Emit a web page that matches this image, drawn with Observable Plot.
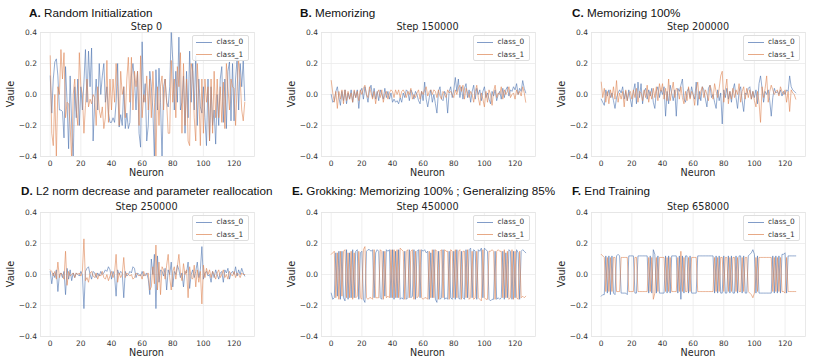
<!DOCTYPE html>
<html><head><meta charset="utf-8">
<script src="https://cdn.jsdelivr.net/npm/d3@7"></script>
<script src="https://cdn.jsdelivr.net/npm/@observablehq/plot@0.6"></script>
<style>
body{margin:0;background:#fff;}
#chart{position:relative;width:814px;height:362px;overflow:hidden;font-family:"DejaVu Sans",sans-serif;color:#262626;}
.abs{position:absolute;white-space:nowrap;line-height:1;}
.title{font-family:"Liberation Sans",Arial,sans-serif;font-size:11.7px;color:#111;transform:translateY(-50%);}
.title b{font-weight:bold;}
.step{font-size:9.7px;transform:translate(-50%,-50%);}
.xlabel{font-size:9.6px;transform:translate(-50%,-50%);}
.ylabel{font-size:9.6px;transform:translate(-50%,-50%) rotate(-90deg);}
.legend{box-sizing:border-box;border:1px solid #dedede;background:rgba(255,255,255,0.85);border-radius:2px;}
.legend .ln{position:absolute;height:0;border-top:1px solid;}
.legend .tx{position:absolute;font-size:7.4px;transform:translateY(-50%);color:#333;}
svg{position:absolute;}
</style>
</head><body>
<div id="chart"></div>
<script>
const xTicks = [0, 20, 40, 60, 80, 100, 120];
const yTicks = [-0.4, -0.2, 0, 0.2, 0.4];
const seriesNames = ["class_0", "class_1"];
const titles = ["Random Initialization", "Memorizing", "Memorizing 100%", "L2 norm decrease and parameter reallocation", "Grokking: Memorizing 100% ; Generalizing 85%", "End Training"];
const letters = ["A.", "B.", "C.", "D.", "E.", "F."];
const steps = ["Step 0", "Step 150000", "Step 200000", "Step 250000", "Step 450000", "Step 658000"];

const A0 = [0.12,-0.12,0.10,0.21,0.23,0.12,-0.10,-0.10,-0.11,-0.28,0.18,-0.05,-0.35,0.12,-0.20,-0.42,
0.05,-0.15,0.10,-0.20,0.05,-0.10,0.08,0.29,-0.05,0.28,0.05,0.30,-0.30,-0.05,0.10,-0.10,
0.20,0.00,0.12,0.20,-0.05,0.05,-0.12,-0.18,-0.18,-0.15,-0.18,-0.05,0.20,-0.21,-0.13,-0.20,
0.05,-0.22,-0.12,-0.22,-0.18,0.12,0.20,0.10,-0.10,0.15,-0.25,-0.34,0.34,-0.05,0.07,-0.30,
-0.20,0.15,0.05,-0.10,-0.42,0.16,-0.10,0.17,-0.05,-0.42,0.05,0.10,-0.05,-0.08,0.05,0.40,
0.22,-0.10,0.15,-0.05,0.37,-0.10,-0.05,0.12,-0.25,0.15,-0.15,0.28,-0.05,0.20,-0.10,0.25,
-0.20,0.10,-0.08,-0.12,0.05,-0.15,-0.33,0.10,-0.30,0.05,-0.20,-0.10,-0.32,0.00,-0.20,0.10,
0.18,-0.18,0.10,-0.22,0.15,0.21,-0.17,0.20,-0.17,0.10,0.24,-0.10,0.20,0.05,0.22,-0.04];
const A1 = [0.25,-0.25,-0.33,0.00,-0.40,0.05,0.00,0.29,0.10,0.27,-0.15,-0.05,-0.06,-0.20,-0.42,0.00,
0.10,-0.10,-0.20,0.27,0.05,0.00,-0.25,-0.07,0.10,-0.08,-0.03,-0.06,0.00,-0.02,-0.20,0.05,
-0.10,-0.15,-0.08,-0.22,-0.15,0.22,-0.18,0.10,-0.10,0.10,-0.05,0.20,0.05,-0.20,0.15,0.00,
0.05,-0.15,0.10,0.24,-0.05,0.24,-0.10,0.15,0.05,0.15,-0.20,0.25,-0.15,0.00,-0.05,0.12,
-0.10,0.10,-0.15,0.15,-0.05,-0.42,0.05,-0.20,0.05,0.12,-0.10,0.10,-0.05,-0.25,-0.25,0.22,
-0.05,0.10,-0.15,0.18,0.05,0.27,-0.25,0.20,-0.20,0.10,-0.30,-0.33,0.20,0.15,-0.15,-0.30,
0.20,0.00,-0.33,0.10,-0.25,0.10,-0.05,0.05,-0.30,0.10,-0.25,0.15,-0.15,0.10,-0.15,0.05,
-0.18,0.08,-0.22,0.20,0.05,-0.10,0.10,0.05,0.04,-0.20,0.05,0.22,0.10,-0.10,-0.17,-0.05];

const B0 = [0.00,-0.05,-0.04,0.02,0.05,-0.02,-0.07,0.02,-0.04,0.03,-0.06,0.01,-0.03,0.03,-0.05,0.02,
-0.02,0.03,-0.09,0.02,0.04,-0.03,0.05,0.00,-0.05,0.03,0.06,-0.02,0.04,-0.03,0.02,-0.04,
0.03,0.00,-0.03,0.04,-0.02,0.02,-0.03,0.01,-0.05,-0.03,-0.05,-0.04,-0.06,-0.02,-0.05,0.01,
-0.02,0.03,0.02,-0.04,0.03,0.01,-0.03,0.02,0.00,-0.04,-0.06,0.02,-0.04,0.08,-0.03,-0.08,
-0.02,0.03,-0.05,0.00,-0.06,-0.12,0.02,0.05,-0.03,-0.04,0.02,0.00,-0.12,0.02,0.05,-0.02,
0.03,0.11,0.02,0.10,-0.02,0.05,-0.03,0.04,0.07,-0.02,0.03,-0.05,0.02,0.06,-0.03,0.04,
0.00,0.03,-0.04,0.02,0.05,-0.02,0.01,-0.03,-0.06,0.02,-0.01,0.03,-0.04,0.00,0.02,-0.03,
0.04,-0.02,0.03,0.05,-0.01,0.03,0.02,0.05,0.03,0.07,0.00,0.04,0.02,0.09,0.04,0.01];
const B1 = [0.09,0.01,-0.05,0.02,-0.09,0.02,-0.03,0.03,-0.06,0.03,-0.04,0.02,-0.03,0.01,-0.05,0.03,
-0.02,0.02,-0.04,0.03,0.00,0.04,0.06,0.00,-0.02,0.05,0.01,-0.03,0.02,-0.06,0.01,0.03,
-0.02,0.03,-0.05,0.00,0.02,-0.03,0.01,0.03,0.02,-0.02,0.03,0.00,0.03,-0.02,0.02,0.03,
0.01,-0.02,0.02,0.00,0.04,-0.03,0.00,-0.02,0.01,0.03,-0.03,0.02,0.00,0.03,0.05,-0.01,
0.02,0.03,0.00,0.03,0.02,-0.02,0.03,-0.01,-0.03,0.02,0.00,-0.02,0.03,0.01,0.02,0.00,
-0.02,0.03,0.00,0.04,0.06,0.02,0.06,-0.03,0.04,0.01,-0.02,0.02,0.00,-0.05,0.02,0.06,
-0.02,-0.07,0.01,-0.03,-0.08,0.02,-0.05,0.03,0.00,-0.07,0.02,0.06,-0.02,0.01,0.00,0.05,
-0.03,0.03,0.00,0.02,0.05,-0.02,0.00,0.01,-0.03,0.03,0.00,0.02,-0.01,0.05,0.01,-0.05];

const C0 = [-0.03,-0.05,-0.07,0.03,-0.01,0.03,-0.02,0.01,-0.04,-0.09,-0.02,0.01,0.03,0.01,0.05,-0.03,
0.02,-0.04,0.03,-0.03,-0.08,0.02,0.07,-0.06,0.08,-0.02,0.07,-0.06,0.02,0.04,-0.03,0.03,
-0.01,0.04,-0.05,-0.09,0.02,0.05,-0.02,0.03,0.00,0.05,-0.14,0.02,-0.06,0.06,0.01,-0.04,
0.03,-0.14,0.04,0.02,0.06,0.10,-0.03,-0.05,0.02,0.04,-0.02,0.05,0.00,-0.03,0.08,-0.07,
0.02,-0.04,0.05,0.03,-0.03,-0.08,0.04,0.06,-0.02,0.00,-0.05,-0.09,0.03,-0.04,0.01,-0.19,
0.03,-0.02,0.04,-0.03,0.02,-0.05,0.03,0.07,-0.02,-0.09,0.02,0.05,-0.04,-0.11,0.01,0.00,
0.04,0.05,-0.03,0.02,-0.02,0.03,-0.06,0.07,0.12,0.04,-0.05,0.02,0.00,0.03,-0.04,-0.14,
-0.02,0.04,0.01,0.02,0.00,0.03,-0.01,0.02,0.00,0.03,0.02,0.12,0.05,0.03,0.02,0.01];
const C1 = [0.08,-0.02,0.04,-0.05,0.02,-0.06,0.03,-0.02,0.05,-0.03,0.09,-0.05,0.01,-0.03,0.02,-0.08,
0.03,-0.04,0.01,0.02,-0.03,0.03,-0.02,0.04,-0.05,0.02,0.01,-0.04,0.03,-0.02,0.06,-0.05,
0.02,-0.03,0.04,-0.02,0.05,-0.04,0.07,0.02,0.07,-0.03,0.04,-0.04,0.10,-0.04,0.02,0.08,
-0.02,0.04,0.03,-0.03,0.05,-0.02,-0.06,0.02,-0.04,0.05,-0.03,0.02,0.00,-0.07,0.03,0.08,
-0.03,0.02,0.05,-0.02,0.03,0.00,-0.04,0.06,0.03,-0.03,0.07,0.02,-0.02,0.04,0.12,0.15,
-0.05,0.03,0.10,-0.06,0.02,-0.03,0.04,-0.02,0.03,0.00,0.07,-0.05,0.02,0.05,-0.03,0.04,
-0.02,0.03,-0.03,0.02,-0.04,-0.08,0.02,-0.05,-0.18,0.05,-0.02,0.04,0.12,-0.05,0.02,0.06,
0.03,0.00,0.02,0.03,-0.01,0.05,0.02,0.00,0.03,-0.05,0.02,-0.11,0.03,0.01,0.00,-0.03];

const D0 = [0.02,-0.06,0.01,-0.02,0.03,-0.11,0.00,0.01,-0.02,0.02,-0.13,0.04,-0.03,0.03,-0.04,0.01,
-0.02,0.01,0.00,-0.01,0.02,0.00,-0.22,0.02,0.04,0.05,0.00,-0.03,0.02,0.01,-0.02,0.01,
-0.01,0.02,0.00,0.01,0.03,0.02,0.05,0.03,-0.03,0.02,-0.01,-0.14,0.03,0.00,0.02,0.01,
-0.15,0.02,-0.01,0.00,0.02,0.01,0.05,0.04,-0.02,0.01,0.00,-0.01,0.02,-0.01,0.00,0.01,
-0.03,-0.13,0.10,0.00,0.13,-0.22,0.12,-0.05,0.03,0.02,-0.01,0.04,-0.10,0.03,0.00,0.08,
-0.08,0.02,0.00,0.06,0.03,-0.02,0.01,-0.08,0.02,0.01,0.08,-0.09,0.00,0.03,-0.02,0.02,
0.08,-0.02,0.03,0.18,-0.03,0.01,0.02,-0.01,0.00,-0.05,0.02,-0.02,0.03,0.00,-0.03,0.01,
0.02,-0.05,0.03,0.01,0.04,-0.03,0.01,0.02,0.00,0.05,-0.01,0.03,0.00,0.04,0.01,-0.01];
const D1 = [0.03,0.02,-0.01,0.02,-0.03,0.08,-0.02,0.01,0.00,-0.03,0.15,-0.07,0.02,-0.01,0.00,0.01,
-0.02,0.01,0.00,0.01,-0.01,0.02,0.23,-0.04,-0.02,-0.05,0.01,0.02,-0.01,-0.02,0.01,-0.03,
0.00,-0.01,0.02,-0.02,-0.03,0.00,-0.04,-0.01,0.02,-0.02,0.01,0.13,-0.05,0.01,-0.02,0.00,
0.11,-0.02,0.01,0.00,-0.01,0.00,-0.03,-0.02,0.01,0.00,-0.01,0.00,-0.03,0.02,-0.01,0.00,
0.01,-0.10,-0.08,0.05,-0.06,0.19,-0.10,0.08,-0.13,0.05,0.03,-0.03,0.06,0.13,-0.02,-0.10,
0.02,0.05,-0.03,0.05,0.13,0.01,-0.04,0.07,0.00,0.03,-0.15,0.05,-0.02,-0.03,0.06,-0.08,
0.03,-0.05,0.02,-0.19,0.06,-0.02,0.04,0.00,0.03,-0.02,0.02,0.00,-0.03,0.01,0.03,-0.02,
0.00,0.03,-0.02,0.00,-0.03,0.02,0.00,-0.01,0.02,-0.02,0.01,0.00,-0.02,0.01,0.00,0.00];

const E0 = [-0.12,-0.16,-0.15,0.14,-0.14,0.15,-0.16,0.15,-0.15,-0.17,0.16,-0.16,0.14,-0.15,0.16,-0.15,
0.15,0.16,-0.16,0.14,0.15,-0.16,-0.18,0.15,0.16,0.16,0.15,0.16,-0.15,0.14,0.16,0.15,
-0.15,-0.16,0.15,-0.14,0.16,0.15,0.16,-0.15,0.16,-0.16,0.15,-0.15,0.16,-0.16,-0.15,-0.16,
0.15,-0.16,-0.15,0.16,-0.15,-0.14,0.16,-0.16,0.15,0.16,-0.15,0.16,0.15,0.16,0.14,0.15,
-0.16,0.14,-0.15,0.16,-0.16,-0.18,0.15,-0.16,-0.15,0.16,-0.16,-0.15,-0.16,0.15,-0.15,-0.16,
0.15,-0.16,0.16,-0.15,-0.16,0.15,-0.15,-0.16,0.16,-0.15,0.16,0.17,-0.15,0.16,0.15,-0.16,
0.16,0.15,0.17,-0.15,0.17,0.16,0.15,-0.16,-0.17,-0.16,-0.16,0.15,-0.16,-0.15,-0.16,-0.15,
0.15,-0.16,0.14,-0.15,0.16,0.15,-0.16,0.15,-0.15,0.16,0.14,-0.16,0.15,0.16,0.15,0.14];
const E1 = [0.13,0.14,0.15,-0.15,0.14,-0.16,0.15,-0.14,0.15,0.16,-0.15,0.14,-0.15,0.15,-0.16,0.14,
-0.15,-0.14,0.15,-0.15,-0.16,0.16,0.18,-0.15,-0.16,-0.15,-0.15,-0.16,0.16,-0.15,-0.15,-0.15,
0.16,0.15,-0.16,0.15,-0.15,-0.14,-0.15,0.16,-0.15,0.16,-0.15,0.16,-0.15,0.17,0.16,0.15,
-0.16,0.15,0.16,-0.15,0.15,0.16,-0.16,0.15,-0.15,-0.14,0.16,-0.15,-0.16,-0.15,-0.15,-0.16,
0.15,-0.15,0.16,-0.15,0.16,0.15,-0.16,0.15,0.16,-0.15,0.16,0.15,0.15,-0.16,0.16,0.15,
-0.15,0.16,-0.15,0.15,0.16,-0.16,0.15,0.15,-0.15,0.16,-0.16,-0.15,0.15,-0.16,-0.15,0.15,
-0.15,-0.16,-0.17,0.16,-0.15,-0.16,-0.16,0.15,0.15,0.16,0.15,-0.16,0.15,0.16,0.15,0.15,
-0.15,0.16,-0.15,0.15,-0.16,-0.15,0.16,-0.16,0.15,-0.15,-0.16,0.15,-0.15,-0.14,-0.15,-0.14];

const F0 = [-0.14,-0.13,-0.13,0.12,-0.12,0.12,-0.13,0.12,-0.12,-0.13,0.12,0.13,0.12,-0.12,-0.12,-0.12,
-0.12,-0.13,0.12,0.12,0.12,0.12,-0.12,-0.12,0.12,0.12,0.12,0.12,0.12,0.12,0.12,-0.12,
0.12,-0.12,0.16,0.13,-0.12,0.12,-0.12,-0.12,-0.12,-0.12,0.12,-0.12,0.12,-0.12,0.12,0.12,
0.12,0.12,-0.12,0.12,-0.16,0.12,-0.12,0.12,0.12,-0.12,0.12,-0.12,-0.12,-0.12,-0.12,0.12,
0.12,0.12,0.12,0.12,0.12,0.12,0.12,0.12,0.12,0.12,-0.12,0.12,-0.12,0.12,-0.12,-0.12,
0.12,-0.12,-0.12,0.12,-0.12,0.12,-0.12,-0.12,0.12,-0.12,0.12,0.12,-0.12,0.12,-0.12,-0.12,
0.12,0.13,0.14,0.16,0.13,-0.12,0.12,-0.12,-0.12,-0.12,-0.12,-0.12,-0.12,-0.12,-0.12,-0.12,
0.12,-0.12,0.12,-0.12,0.12,-0.12,0.13,0.13,0.14,-0.12,0.12,0.12,0.12,0.12,0.12,0.12];
const F1 = [0.13,0.12,0.11,-0.11,0.11,-0.11,0.11,-0.11,0.11,0.11,-0.11,-0.11,-0.11,0.11,0.11,0.11,
0.11,0.11,-0.11,-0.11,-0.11,-0.11,0.11,0.11,-0.11,-0.11,-0.11,-0.11,-0.11,-0.11,-0.11,0.11,
-0.11,0.11,-0.16,-0.12,0.11,-0.11,0.11,0.11,0.11,0.11,-0.11,0.11,-0.11,0.11,-0.11,-0.11,
-0.11,-0.11,0.11,-0.11,0.15,-0.11,0.11,-0.11,-0.11,0.11,-0.11,0.11,0.11,0.11,0.11,-0.11,
-0.11,-0.11,-0.11,-0.11,-0.11,-0.11,-0.11,-0.11,-0.11,-0.11,0.11,-0.11,0.11,-0.11,0.11,0.11,
-0.11,0.11,0.11,-0.11,0.11,-0.11,0.11,0.11,-0.11,0.11,-0.11,-0.11,0.11,-0.11,0.11,0.11,
-0.11,-0.12,-0.13,-0.15,-0.12,0.11,-0.11,0.11,0.11,0.11,0.11,0.11,0.11,0.11,0.11,0.11,
-0.11,0.11,-0.11,0.11,-0.11,0.11,-0.11,-0.11,-0.12,0.11,-0.11,-0.11,-0.11,-0.11,-0.11,-0.11];

const class0 = [A0, B0, C0, D0, E0, F0];
const class1 = [A1, B1, C1, D1, E1, F1];

const colors = ["#4c72b0", "#dd8452"];
const AX_W = 214, AX_H = 124;
const colLeft = [39.5, 320.5, 591];
const rowTop = [32, 212];
const titleX = [29, 300, 572, 21, 292, 572];
const titleY = [13, 191];
const ML = 30, MR = 5, MT = 5, MB = 15;

const chart = document.getElementById("chart");
function addDiv(cls, html, x, y) {
  const d = document.createElement("div");
  d.className = "abs " + cls;
  d.innerHTML = html;
  d.style.left = x + "px";
  d.style.top = y + "px";
  chart.appendChild(d);
  return d;
}
const fmtY = d => (d < 0 ? "\u2212" : "") + Math.abs(d).toFixed(1);

for (let p = 0; p < 6; p++) {
  const r = Math.floor(p / 3), c = p % 3;
  const L = colLeft[c], T = rowTop[r];
  const svg = Plot.plot({
    width: AX_W + ML + MR, height: AX_H + MT + MB,
    marginLeft: ML, marginRight: MR, marginTop: MT, marginBottom: MB,
    style: {fontFamily: "DejaVu Sans", fontSize: "7.5px", color: "#333", background: "transparent", overflow: "visible"},
    x: {domain: [-6.35, 133.35]},
    y: {domain: [-0.4, 0.4]},
    marks: [
      Plot.gridX(xTicks, {stroke: "#ebebeb", strokeOpacity: 1, strokeWidth: 0.8}),
      Plot.gridY(yTicks, {stroke: "#ebebeb", strokeOpacity: 1, strokeWidth: 0.8}),
      Plot.frame({stroke: "#e4e4e4", strokeWidth: 0.8}),
      Plot.axisX(xTicks, {tickSize: 0, tickPadding: 4, label: null, tickFormat: d => String(d), fill: "#333"}),
      Plot.axisY(yTicks, {tickSize: 0, tickPadding: 3.5, label: null, tickFormat: fmtY, fill: "#333"}),
      Plot.lineY(class0[p], {stroke: colors[0], strokeWidth: 0.85, strokeOpacity: 0.7, clip: true}),
      Plot.lineY(class1[p], {stroke: colors[1], strokeWidth: 0.85, strokeOpacity: 0.7, clip: true})
    ]
  });
  svg.style.left = (L - ML) + "px";
  svg.style.top = (T - MT) + "px";
  chart.appendChild(svg);

  addDiv("title", "<b>" + letters[p] + "</b> " + titles[p], titleX[p], titleY[r]);
  addDiv("step", steps[p], L + AX_W / 2, T - 5.5);
  addDiv("xlabel", "Neuron", L + AX_W / 2, T + AX_H + 16.5);
  addDiv("ylabel", "Vaule", L - 29, T + AX_H / 2);

  const lg = addDiv("legend", "", L + AX_W - 5 - 57, T + 3);
  lg.style.width = "57px"; lg.style.height = "26px";
  seriesNames.forEach((nm, i) => {
    const ln = document.createElement("div");
    ln.className = "ln";
    ln.style.left = "3.5px"; ln.style.width = "16px"; ln.style.top = (5.5 + i * 12.5) + "px";
    ln.style.borderColor = colors[i]; ln.style.opacity = 0.7;
    lg.appendChild(ln);
    const tx = document.createElement("div");
    tx.className = "tx"; tx.textContent = nm;
    tx.style.left = "24px"; tx.style.top = (6 + i * 12.5) + "px";
    lg.appendChild(tx);
  });
}
</script>
</body></html>
